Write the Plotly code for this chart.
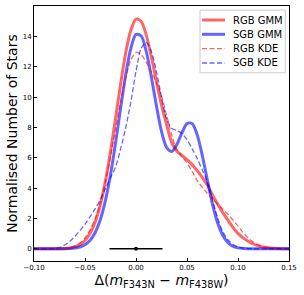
import plotly.graph_objects as go

# x grid of the density curves (Delta colour)
x_grid = [-0.100, -0.095, -0.090, -0.085, -0.080, -0.075, -0.070, -0.065, -0.060, -0.055,
          -0.050, -0.045, -0.040, -0.035, -0.030, -0.025, -0.020, -0.015, -0.010, -0.005,
          0.000, 0.005, 0.010, 0.015, 0.020, 0.025, 0.030, 0.035, 0.040, 0.045,
          0.050, 0.055, 0.060, 0.065, 0.070, 0.075, 0.080, 0.085, 0.090, 0.095,
          0.100, 0.105, 0.110, 0.115, 0.120, 0.125, 0.130, 0.135, 0.140, 0.145, 0.150]

rgb_gmm = [0, 0, 0, 0, 0.002, 0.01, 0.025, 0.06, 0.13, 0.28,
           0.55, 1.02, 1.77, 2.90, 4.45, 6.40, 8.62, 10.90, 12.95, 14.42,
           15.13, 14.99, 14.10, 12.67, 11.04, 9.48, 8.19, 7.00, 6.45, 6.15,
           5.88, 5.55, 5.15, 4.70, 4.20, 3.55, 2.95, 2.40, 1.90, 1.42,
           1.02, 0.72, 0.50, 0.32, 0.20, 0.12, 0.07, 0.035, 0.018, 0.009, 0.005]

sgb_gmm = [0, 0, 0, 0, 0.001, 0.002, 0.007, 0.02, 0.052, 0.123,
           0.273, 0.563, 1.08, 1.92, 3.18, 4.89, 7.00, 9.31, 11.51, 13.22,
           14.13, 14.04, 13.03, 11.34, 9.43, 7.74, 6.68, 6.42, 6.87, 7.64,
           8.25, 8.26, 7.51, 6.15, 4.51, 2.95, 1.72, 0.90, 0.42, 0.17,
           0.064, 0.021, 0.006, 0.002, 0, 0, 0, 0, 0, 0, 0]

rgb_kde = [0, 0, 0, 0, 0.003, 0.01, 0.03, 0.08, 0.18, 0.38,
           0.72, 1.25, 2.0, 3.05, 4.4, 6.1, 7.9, 9.7, 11.3, 12.45,
           12.95, 12.8, 12.3, 11.65, 10.95, 10.08, 8.8, 7.5, 6.55, 6.1,
           5.65, 5.1, 4.5, 4.05, 3.65, 3.3, 2.95, 2.62, 2.3, 1.9,
           1.5, 1.08, 0.72, 0.45, 0.26, 0.13, 0.06, 0.025, 0.01, 0.003, 0]

sgb_kde = [0, 0, 0, 0, 0.02, 0.08, 0.25, 0.5, 0.82, 1.2,
           1.62, 2.12, 2.65, 3.22, 3.97, 4.68, 5.4, 6.6, 8.0, 9.7,
           11.7, 13.2, 13.6, 13.0, 11.7, 10.0, 8.55, 7.95, 7.8, 7.6,
           7.2, 6.6, 5.95, 5.2, 4.4, 3.2, 2.05, 1.15, 0.6, 0.3,
           0.12, 0.05, 0.02, 0.008, 0, 0, 0, 0, 0, 0, 0]

# typical error bar
err_x = [0.0]
err_y = [0.0]
err_size = [0.026]

x_ticks = [-0.10, -0.05, 0.00, 0.05, 0.10, 0.15]
y_ticks = [0, 2, 4, 6, 8, 10, 12, 14]

series_names = ["RGB GMM", "SGB GMM", "RGB KDE", "SGB KDE"]

RED = "rgba(255,0,0,0.6)"
BLUE = "rgba(0,0,255,0.6)"
FONT = "DejaVu Sans"
DASH = "5px,2.5px"

styles = [dict(color=RED, width=3, dash="solid"),
          dict(color=BLUE, width=3, dash="solid"),
          dict(color=RED, width=1.3, dash=DASH),
          dict(color=BLUE, width=1.3, dash=DASH)]
series = [rgb_gmm, sgb_gmm, rgb_kde, sgb_kde]

fig = go.Figure()
for name, ys, st in zip(series_names, series, styles):
    fig.add_trace(go.Scatter(x=x_grid, y=ys, mode="lines", name=name, showlegend=False,
                             hoverinfo="skip",
                             line=dict(color=st["color"], width=st["width"], dash=st["dash"],
                                       shape="spline", smoothing=0.8)))
fig.add_trace(go.Scatter(x=err_x, y=err_y, mode="markers", showlegend=False, hoverinfo="skip",
                         marker=dict(color="black", size=4),
                         error_x=dict(type="data", array=err_size, color="black",
                                      thickness=1.5, width=0)))

# legend drawn in paper coordinates (compact, matplotlib-like)
shapes = [dict(type="rect", xref="paper", yref="paper", x0=0.651, x1=0.9855, y0=0.738, y1=0.984,
               fillcolor="rgba(255,255,255,0.8)", line=dict(color="#cccccc", width=1), layer="above")]
annotations = []
row_y = [0.945, 0.889, 0.8325, 0.7765]
for name, st, yy in zip(series_names, styles, row_y):
    shapes.append(dict(type="line", xref="paper", yref="paper", x0=0.659, x1=0.749, y0=yy, y1=yy,
                       line=dict(color=st["color"], width=st["width"], dash=st["dash"]), layer="above"))
    annotations.append(dict(xref="paper", yref="paper", x=0.7725, y=yy, text=name, showarrow=False,
                            xanchor="left", yanchor="middle", font=dict(size=10, family=FONT, color="black")))

fig.update_layout(
    width=304, height=295,
    margin=dict(l=34, r=15, t=6, b=34, autoexpand=False),
    paper_bgcolor="white", plot_bgcolor="white",
    font=dict(family=FONT, color="black"),
    showlegend=False,
    shapes=shapes, annotations=annotations,
    xaxis=dict(range=[-0.10, 0.15], tickvals=x_ticks, tickformat=".2f",
               ticks="inside", ticklen=3, tickwidth=1, tickcolor="black",
               showline=True, linecolor="black", linewidth=1, mirror=True,
               showgrid=False, zeroline=False, tickfont=dict(size=7), automargin=False,
               title=dict(text="Δ(<i>m</i><sub>F343N</sub> − <i>m</i><sub>F438W</sub>)",
                          font=dict(size=14), standoff=0)),
    yaxis=dict(range=[-0.8, 16.0], tickvals=y_ticks,
               ticks="inside", ticklen=3, tickwidth=1, tickcolor="black",
               showline=True, linecolor="black", linewidth=1, mirror=True,
               showgrid=False, zeroline=False, tickfont=dict(size=7), automargin=False,
               title=dict(text="Normalised Number of Stars", font=dict(size=14), standoff=1)),
)

fig.write_html("out.html", config={"displayModeBar": False},
               post_script="document.body.style.margin='0';document.body.style.padding='0';")
